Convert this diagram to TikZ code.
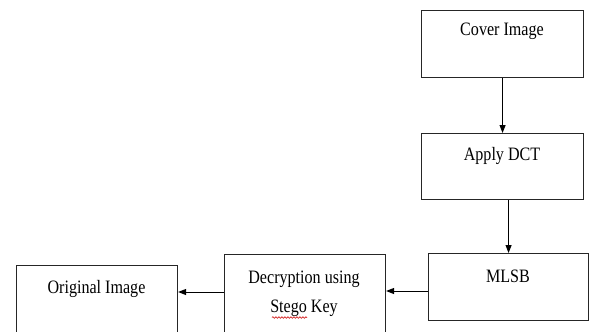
\documentclass[tikz,border=0pt]{standalone}
\usepackage{fontspec}
\setmainfont{Liberation Serif}
\usetikzlibrary{arrows.meta,decorations.pathmorphing}
\begin{document}
\begin{tikzpicture}[x=1bp,y=-1bp,
  box/.style={draw=black!85,line width=1.1bp,minimum width=#1,inner sep=0pt,anchor=north west},
  lbl/.style={font=\fontsize{19}{22}\selectfont,xscale=0.85,inner sep=0pt,anchor=base},
  arr/.style={draw=black,line width=1bp,-{Triangle[length=8bp,width=6bp]}}]
\useasboundingbox (0,0) rectangle (589,331);
\clip (0,0) rectangle (589,331);
% boxes
\node[box=162bp,minimum height=67bp] (cover) at (421,10) {};
\node[box=162bp,minimum height=66bp] (dct) at (421,133) {};
\node[box=160bp,minimum height=67bp] (mlsb) at (428,253) {};
\node[box=161bp,minimum height=90bp] (dec) at (224,254) {};
\node[box=161bp,minimum height=80bp] (orig) at (16,265) {};
% texts
\node[lbl] (tcover) at (502,35) {Cover Image};
\node[lbl] (tdct) at (502,160) {Apply DCT};
\node[lbl] (tmlsb) at (508,282) {MLSB};
\node[lbl] (tdec1) at (304,283) {Decryption using};
\node[lbl] (tdec2) at (304,312) {Stego Key};
\node[lbl] (torig) at (96.5,293) {Original Image};
% spell-check mark
\coordinate (w1) at (272,317.5);
\coordinate (w2) at (307,317.5);
\draw[red!80!black,line width=0.6bp,decorate,decoration={snake,amplitude=0.8bp,segment length=3bp}] (w1) -- (w2);
% connectors
\draw[arr] (cover.south) -- (dct.north);
\draw[arr] (dct.south -| mlsb.north) -- (mlsb.north);
\coordinate (m1) at (mlsb.west |- 0,291);
\coordinate (d1) at (dec.east |- 0,291);
\draw[arr] (m1) -- (d1);
\coordinate (d2) at (dec.west |- 0,292);
\coordinate (o1) at (orig.east |- 0,292);
\draw[arr] (d2) -- (o1);
\end{tikzpicture}
\end{document}
